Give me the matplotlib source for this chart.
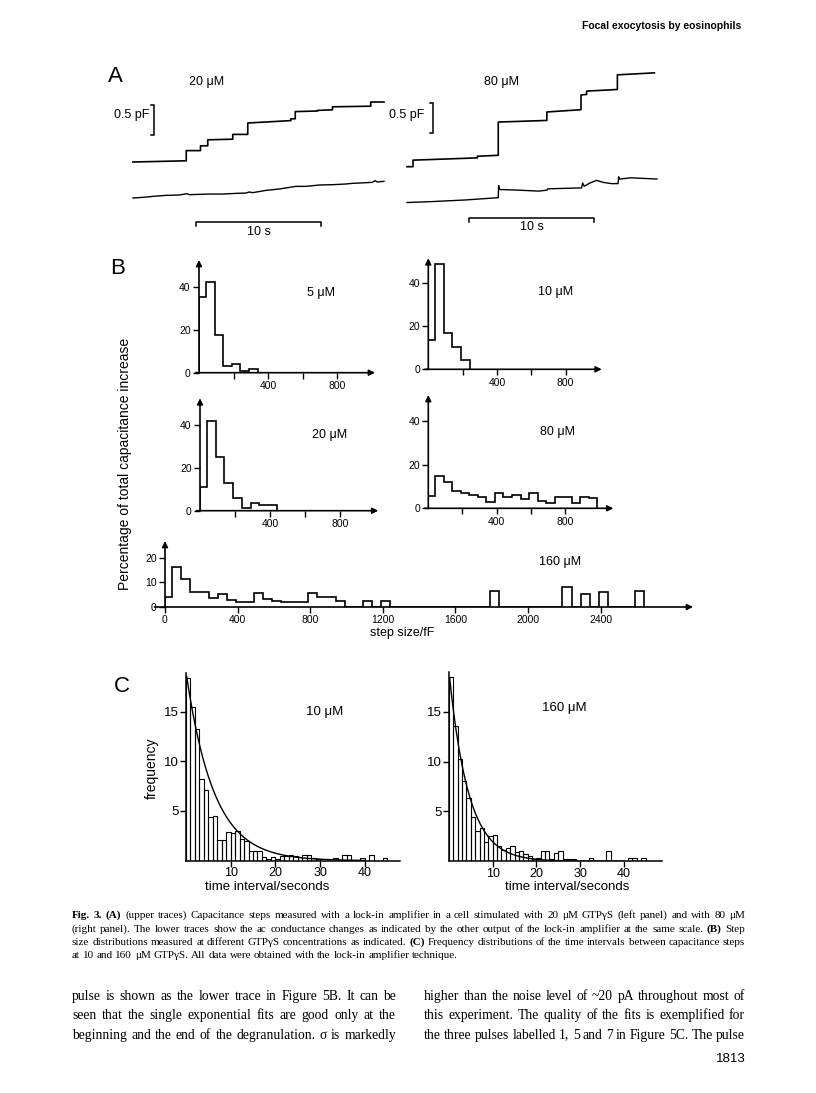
import numpy as np
import matplotlib
matplotlib.use('Agg')
import matplotlib.pyplot as plt

W, H = 816, 1093
SANS = 'Liberation Sans'
SERIF = 'Liberation Serif'
plt.rcParams['font.family'] = [SANS, 'DejaVu Sans']

# ---------------- data ----------------
# Panel A: capacitance traces (time in s, capacitance in pF)
a20_up_t = [0, 4.26, 4.26, 5.40, 5.40, 5.98, 5.98, 7.98, 7.98, 9.18, 9.18, 12.63, 12.63,
            12.98, 12.98, 14.76, 14.76, 15.96, 15.96, 19.02, 19.02, 20.08]
a20_up_c = [0, 0.02, 0.19, 0.19, 0.27, 0.27, 0.37, 0.38, 0.46, 0.46, 0.65, 0.69, 0.72,
            0.72, 0.84, 0.85, 0.86, 0.87, 0.92, 0.93, 1.00, 1.00]
a20_lo_t = [0.00, 0.80, 1.60, 2.66, 3.72, 4.31, 4.52, 5.32, 6.12, 7.18, 8.24, 9.04, 9.31,
            9.57, 10.64, 11.70, 13.03, 13.83, 14.89, 15.96, 17.02, 17.55, 18.62, 19.15,
            19.36, 19.55, 20.08]
a20_lo_c = [-0.600, -0.589, -0.573, -0.556, -0.550, -0.528, -0.545, -0.539, -0.534, -0.534,
            -0.523, -0.517, -0.500, -0.511, -0.473, -0.450, -0.406, -0.406, -0.384, -0.378,
            -0.367, -0.356, -0.345, -0.339, -0.311, -0.334, -0.322]
a80_up_t = [0, 0.48, 0.48, 5.63, 5.63, 7.30, 7.30, 11.19, 11.19, 13.92, 13.92, 14.37,
            14.37, 16.83, 16.83, 19.79]
a80_up_c = [0, 0, 0.109, 0.147, 0.174, 0.19, 0.744, 0.771, 0.912, 0.95, 1.195, 1.205,
            1.26, 1.287, 1.531, 1.564]
a80_lo_t = [0, 2.06, 4.71, 7.30, 7.33, 7.41, 8.94, 10.53, 11.19, 11.27, 13.97, 14.05,
            14.18, 14.63, 15.16, 15.69, 16.35, 16.88, 16.93, 17.01, 17.94, 20.0]
a80_lo_c = [-0.597, -0.581, -0.554, -0.516, -0.315, -0.38, -0.391, -0.407, -0.391, -0.369,
            -0.353, -0.272, -0.326, -0.272, -0.228, -0.261, -0.282, -0.282, -0.168, -0.206,
            -0.185, -0.206]

# Panel B: step size distributions (% of total capacitance increase)
# bin 0 = 0-40 fF, then 50 fF wide bins
b5 = [35, 42, 17.5, 3.3, 4, 1, 1.7]
b10 = [13.6, 48.8, 16.7, 10.5, 4.3]
b20 = [11.2, 41.8, 25.2, 12.8, 5.8, 1.4, 3.4, 2.6, 2.6]
b80 = [5.8, 15, 12, 8, 7.2, 6.2, 5, 3, 6.9, 5.4, 6, 4.3, 7.2, 3.5, 2.3, 5.4, 5.4, 2.6,
       5.4, 4.6]
b160 = [4, 16.1, 11.4, 6.1, 6.1, 3.7, 5.4, 3.0, 1.9, 2.1, 5.7, 3.3, 2.6, 2.1, 2.1, 2.1,
        5.7, 4, 4, 2.6, 0, 0, 2.6, 0, 2.6, 0, 0, 0, 0, 0, 0, 0, 0, 0, 0, 0, 6.6, 0, 0, 0,
        0, 0, 0, 0, 8.3, 0, 5.1, 0, 5.9, 0, 0, 0, 6.4]

# Panel C: frequency of time intervals (1 s bins)
c10 = [18.4, 15.5, 13.2, 8.2, 7.1, 4.4, 4.5, 2.1, 2.1, 2.9, 2.8, 3.0, 2.2, 2.0, 1.0, 1.0,
       1.0, 0.4, 0.2, 0.4, 0.2, 0.5, 0.5, 0.6, 0.5, 0.4, 0.6, 0.6, 0.3, 0.2, 0, 0, 0, 0.3,
       0, 0.6, 0.6, 0, 0, 0.3, 0, 0.6, 0, 0, 0.3]
c160 = [18.5, 13.6, 10.3, 8.0, 6.3, 4.4, 3.0, 3.3, 1.9, 2.5, 2.6, 1.5, 1.1, 1.3, 1.5, 0.9,
        1.0, 0.7, 0.5, 0.2, 0.3, 1.0, 1.0, 0.2, 0.8, 1.0, 0.2, 0.2, 0.2, 0, 0, 0, 0.3, 0,
        0, 0, 1.0, 0, 0, 0, 0, 0.3, 0.3, 0, 0.3]
c10_fit = (19.0, 6.2)     # amplitude, time constant (s)
c160_fit = (19.0, 4.4)

# ---------------- figure ----------------
fig = plt.figure(figsize=(W / 100, H / 100), dpi=100)
fig.patch.set_facecolor('white')


def fx(x):
    return x / W


def fy(y):
    return 1 - y / H


def add_ax(x0, y0, x1, y1):
    return fig.add_axes([x0 / W, 1 - y1 / H, (x1 - x0) / W, (y1 - y0) / H])


def txt(x, y, s, size=9, ha='center', va='center', **kw):
    return fig.text(fx(x), fy(y), s, fontsize=size, ha=ha, va=va, **kw)


# ---- Panel A ----
def trace_panel(x0, x_t0, base_y, px_s, px_pf, up, lo, sb_x, sb_c, tb_t0, tb_c):
    ax = add_ax(x0, 60, x0 + 300, 240)
    ax.set_xlim(-(x_t0 - x0) / px_s, (x0 + 300 - x_t0) / px_s)
    ax.set_ylim(-(240 - base_y) / px_pf, (base_y - 60) / px_pf)
    ax.axis('off')
    ax.plot(up[0], up[1], color='k', lw=1.2)
    ax.plot(lo[0], lo[1], color='k', lw=1.0)
    # 0.5 pF bracket
    tk = 3 / px_s
    ax.plot([sb_x - tk, sb_x, sb_x, sb_x - tk], [sb_c + 0.5, sb_c + 0.5, sb_c, sb_c],
            color='k', lw=1.1, solid_joinstyle='miter')
    # 10 s bar
    dt = 4 / px_pf
    ax.plot([tb_t0, tb_t0, tb_t0 + 10, tb_t0 + 10], [tb_c - dt, tb_c, tb_c, tb_c - dt],
            color='k', lw=1.1)
    return ax


trace_panel(100, 133, 162, 12.5, 60, (a20_up_t, a20_up_c), (a20_lo_t, a20_lo_c),
            1.68, 0.45, 5.04, -0.995)
trace_panel(400, 407, 166.7, 12.5, 60, (a80_up_t, a80_up_c), (a80_lo_t, a80_lo_c),
            2.08, 0.557, 4.96, -0.86)

txt(108, 76, 'A', size=16, ha='left')
txt(207, 82, '20 μM', size=9)
txt(502, 82, '80 μM', size=9)
txt(149, 115, '0.5 pF', size=9, ha='right')
txt(424, 115, '0.5 pF', size=9, ha='right')
txt(258.5, 232, '10 s', size=9)
txt(532, 227, '10 s', size=9)


# ---- Panel B ----
def hist_panel(xo, yo, x_end, y_top, xmax, ymax, vals, xticks, xlabels, yticks):
    ax = add_ax(xo, y_top, x_end, yo)
    ax.set_xlim(0, xmax)
    ax.set_ylim(0, ymax)
    for s in ax.spines.values():
        s.set_visible(False)
    edges = [0] + [40 + 50 * k for k in range(len(vals))]
    ax.stairs(vals, edges, baseline=0, fill=False, color='k', lw=1.2)
    arr = dict(arrowstyle='-|>', color='k', lw=1.2, mutation_scale=8.5,
               shrinkA=0, shrinkB=0)
    ax.annotate('', xy=(xmax, 0), xytext=(-0.02 * xmax, 0), arrowprops=arr,
                annotation_clip=False)
    ax.annotate('', xy=(0, ymax), xytext=(0, 0), arrowprops=arr, annotation_clip=False)
    ax.set_xticks(xticks)
    ax.set_xticklabels(xlabels)
    ax.set_yticks(yticks)
    ax.set_yticklabels([str(v) for v in yticks])
    ax.tick_params(direction='out', length=4, width=1.0, labelsize=7.5, pad=2)
    ax.patch.set_visible(False)
    return ax


hist_panel(199, 372.7, 375, 260, 1020, 52.4, b5, [200, 400, 600, 800],
           ['', '400', '', '800'], [0, 20, 40])
hist_panel(428.3, 369.3, 601.7, 258.3, 1010, 51.6, b10, [200, 400, 600, 800],
           ['', '400', '', '800'], [0, 20, 40])
hist_panel(200, 510.7, 378.3, 398.3, 1019, 52.5, b20, [200, 400, 600, 800],
           ['', '400', '', '800'], [0, 20, 40])
hist_panel(428.3, 508.3, 613.3, 395, 1083, 52.2, b80, [200, 400, 600, 800],
           ['', '400', '', '800'], [0, 20, 40])
hist_panel(165, 607, 693, 541, 2909, 26.8, b160, [0, 400, 800, 1200, 1600, 2000, 2400],
           ['0', '400', '800', '1200', '1600', '2000', '2400'], [0, 10, 20])

txt(110, 268, 'B', size=16, ha='left')
txt(321, 293, '5 μM', size=9)
txt(556, 292, '10 μM', size=9)
txt(329.5, 435, '20 μM', size=9)
txt(557, 432, '80 μM', size=9)
txt(560, 562, '160 μM', size=9)
txt(402, 633, 'step size/fF', size=9)
txt(124.5, 464, 'Percentage of total capacitance increase', size=10, rotation=90)


# ---- Panel C ----
def freq_panel(xo, yo, x_end, y_top, xmax, ymax, vals, fit):
    ax = add_ax(xo, y_top, x_end, yo)
    ax.set_xlim(0, xmax)
    ax.set_ylim(0, ymax)
    ax.bar(np.arange(len(vals)), vals, width=1, align='edge', fill=False,
           edgecolor='k', lw=0.8)
    t = np.linspace(0.15, 40, 400)
    ax.plot(t, fit[0] * np.exp(-t / fit[1]), color='k', lw=1.0)
    ax.spines['top'].set_visible(False)
    ax.spines['right'].set_visible(False)
    for s in ('left', 'bottom'):
        ax.spines[s].set_linewidth(1.1)
    ax.set_xticks([10, 20, 30, 40])
    ax.set_yticks([5, 10, 15])
    ax.tick_params(axis='y', direction='out', length=4, width=1.0, labelsize=9.5, pad=1.5)
    ax.tick_params(axis='x', direction='out', length=4, width=1.0, labelsize=9, pad=0.5)
    ax.patch.set_visible(False)
    return ax


freq_panel(186, 860.7, 400, 673.3, 47.9, 18.85, c10, c10_fit)
freq_panel(449, 861.3, 661.7, 671.7, 48.7, 19.0, c160, c160_fit)

txt(114, 686, 'C', size=16, ha='left')
txt(325, 712, '10 μM', size=9.5)
txt(564, 708, '160 μM', size=9.5)
txt(152, 768, 'frequency', size=10, rotation=90)
txt(267, 887, 'time interval/seconds', size=9.5)
txt(567, 887, 'time interval/seconds', size=9.5)

# ---- header, caption, body text ----
txt(741, 26, 'Focal exocytosis by eosinophils', size=7.5, ha='right', weight='bold')

renderer = fig.canvas.get_renderer()
SERIF_LIST = [SERIF, 'DejaVu Serif']


def measure(words, size, bold):
    ws = []
    for w in words:
        t = fig.text(0, 0, w, fontsize=size, family=SERIF_LIST,
                     weight='bold' if w in bold else 'normal')
        ws.append(t.get_window_extent(renderer).width)
        t.remove()
    return ws


def fit_size(lines, width, bold=()):
    # largest font size at which every full line fits with normal word spacing
    ref = 10.0
    best = 99
    for line in lines:
        words = line.split(' ')
        ws = measure(words, ref, bold)
        natural = sum(ws) + (len(words) - 1) * ref * 0.25 * 100 / 72
        best = min(best, ref * width / natural)
    return best * 0.995


def justify(line, x0, x1, y, size, bold=(), last=False):
    words = line.split(' ')
    objs, widths = [], []
    for w in words:
        t = fig.text(fx(x0), fy(y), w, fontsize=size, family=SERIF_LIST,
                     weight='bold' if w in bold else 'normal', ha='left', va='baseline')
        objs.append(t)
        widths.append(t.get_window_extent(renderer).width)
    space = size * 0.25 * 100 / 72
    gap = space if (last or len(words) < 2) else (x1 - x0 - sum(widths)) / (len(words) - 1)
    x = x0
    for t, w in zip(objs, widths):
        t.set_x(fx(x))
        x += w + gap


caption = [
    "Fig. 3. (A) (upper traces) Capacitance steps measured with a lock-in amplifier in a cell stimulated with 20 μM GTPγS (left panel) and with 80 μM",
    "(right panel). The lower traces show the ac conductance changes as indicated by the other output of the lock-in amplifier at the same scale. (B) Step",
    "size distributions measured at different GTPγS concentrations as indicated. (C) Frequency distributions of the time intervals between capacitance steps",
    "at 10 and 160 μM GTPγS. All data were obtained with the lock-in amplifier technique.",
]
bold_words = ('Fig.', '3.', '(A)', '(B)', '(C)')
cap_size = fit_size(caption[:3], 745 - 72, bold_words)
for i, line in enumerate(caption):
    justify(line, 72, 745, 918 + 13.5 * i, cap_size, bold=bold_words, last=(i == 3))

body_left = [
    "pulse is shown as the lower trace in Figure 5B. It can be",
    "seen that the single exponential fits are good only at the",
    "beginning and the end of the degranulation. σ is markedly",
]
body_right = [
    "higher than the noise level of ~20 pA throughout most of",
    "this experiment. The quality of the fits is exemplified for",
    "the three pulses labelled 1, 5 and 7 in Figure 5C. The pulse",
]
body_size = min(fit_size(body_left, 396 - 72), fit_size(body_right, 745 - 424))
for i, line in enumerate(body_left):
    justify(line, 72, 396, 1000 + 19.3 * i, body_size)
for i, line in enumerate(body_right):
    justify(line, 424, 745, 1000 + 19.3 * i, body_size)

txt(746, 1059, '1813', size=9.5, ha='right')

fig.savefig('out.png', dpi=100)
